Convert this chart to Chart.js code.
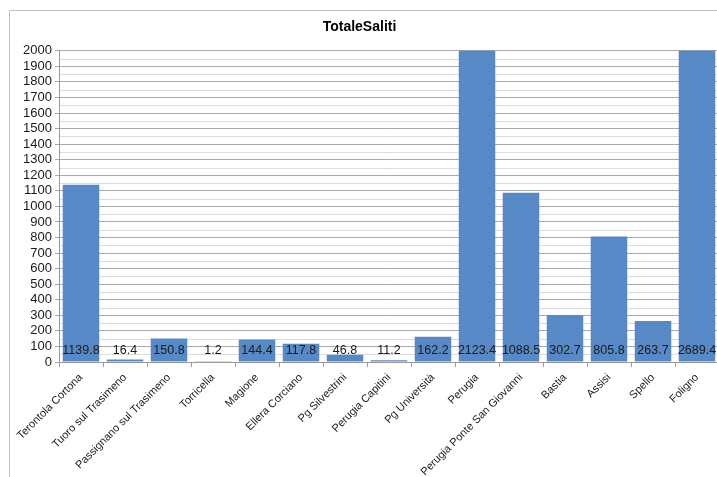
<!DOCTYPE html>
<html>
<head>
  <meta charset="UTF-8">
  <title>TotaleSaliti</title>
  <script src="https://cdn.jsdelivr.net/npm/chart.js@4/dist/chart.umd.min.js"></script>
  <style>
    html, body { margin: 0; padding: 0; background: #fff; overflow: hidden; }
    #wrap { width: 722px; height: 477px; }
  </style>
</head>
<body>
<div id="wrap"><canvas id="myChart" width="722" height="477"></canvas></div>
<script>
  // fermate e valori
  var stops = ["Terontola Cortona", "Tuoro sul Trasimeno", "Passignano sul Trasimeno", "Torricella",
    "Magione", "Ellera Corciano", "Pg Silvestrini", "Perugia Capitini", "Pg Università", "Perugia",
    "Perugia Ponte San Giovanni", "Bastia", "Assisi", "Spello", "Foligno"];
  var saliti = [1139.8, 16.4, 150.8, 1.2, 144.4, 117.8, 46.8, 11.2, 162.2, 2123.4, 1088.5, 302.7, 805.8, 263.7, 2689.4];
  var yMin = 0, yMax = 2000, yStep = 100;

  var FONT = "'Liberation Sans', Arial, sans-serif";

  // cornice grigia + griglia secondaria ogni 50
  var frame = {
    id: "frame",
    beforeDraw: function(chart) {
      var c = chart.ctx;
      c.save();
      c.strokeStyle = "#c0c0c0";
      c.lineWidth = 1;
      c.beginPath();
      c.moveTo(9.5, 477);
      c.lineTo(9.5, 10.5);
      c.lineTo(722, 10.5);
      c.stroke();
      // minor grid
      var y = chart.scales.y, a = chart.chartArea;
      c.strokeStyle = "#dcdcdc";
      c.beginPath();
      for (var v = yMin + yStep / 2; v < yMax; v += yStep) {
        var py = Math.round(y.getPixelForValue(v)) + 0.5;
        c.moveTo(a.left, py);
        c.lineTo(a.right, py);
      }
      c.stroke();
      c.restore();
    }
  };

  // etichette dei valori alla base delle barre
  var valueLabels = {
    id: "valueLabels",
    afterDatasetsDraw: function(chart) {
      var c = chart.ctx;
      var meta = chart.getDatasetMeta(0);
      var base = chart.scales.y.getPixelForValue(0);
      c.save();
      c.font = "12.5px " + FONT;
      c.fillStyle = "#1a1a1a";
      c.textAlign = "center";
      c.textBaseline = "middle";
      meta.data.forEach(function(bar, i) {
        c.fillText(String(saliti[i]), bar.x, base - 11);
      });
      c.restore();
    }
  };

  new Chart(document.getElementById("myChart"), {
    type: "bar",
    data: {
      labels: stops,
      datasets: [{
        label: "TotaleSaliti",
        data: saliti,
        backgroundColor: "#5689c5",
        borderWidth: 0,
        barPercentage: 0.83,
        categoryPercentage: 1.0
      }]
    },
    options: {
      responsive: false,
      animation: false,
      layout: { padding: { left: 0, right: 3, top: 0, bottom: 0 } },
      plugins: {
        legend: { display: false },
        tooltip: { enabled: false },
        title: {
          display: true,
          text: "TotaleSaliti",
          color: "#000",
          font: { family: FONT, size: 14, weight: "bold" },
          padding: { top: 19, bottom: 15 }
        }
      },
      scales: {
        x: {
          grid: { drawOnChartArea: false, drawTicks: true, tickLength: 5, color: "#9a9a9a" },
          border: { color: "#9a9a9a" },
          ticks: {
            color: "#1a1a1a",
            font: { family: FONT, size: 11 },
            maxRotation: 45, minRotation: 45,
            autoSkip: false,
            padding: 4
          },
          afterFit: function(s) { s.height = 115; }
        },
        y: {
          min: yMin, max: yMax,
          grid: { color: "#a8a8a8", tickLength: 4 },
          border: { color: "#9a9a9a" },
          ticks: {
            stepSize: yStep,
            maxTicksLimit: 30,
            autoSkip: false,
            color: "#1a1a1a",
            font: { family: FONT, size: 13 },
            padding: 3,
            callback: function(v) { return String(v); }
          },
          afterFit: function(s) { s.width = 59; }
        }
      }
    },
    plugins: [frame, valueLabels]
  });
</script>
</body>
</html>
